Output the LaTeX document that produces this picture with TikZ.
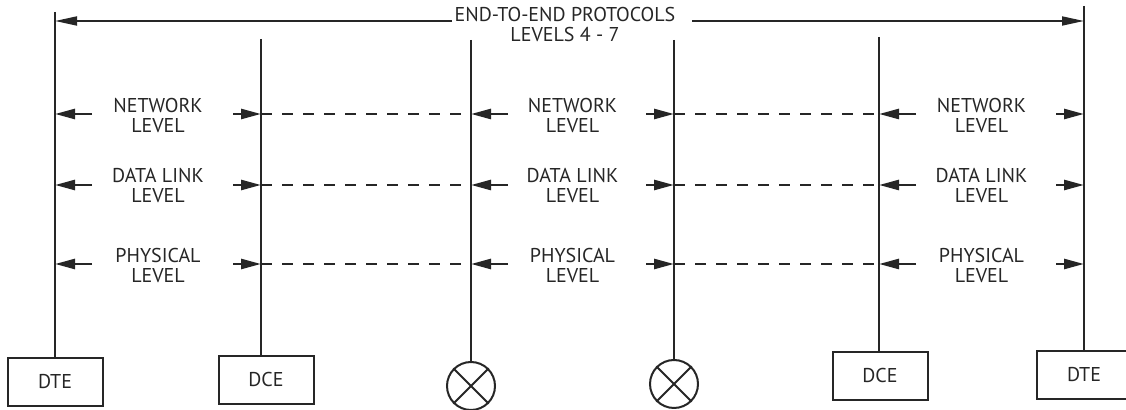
\documentclass[tikz,border=0pt]{standalone}
\usepackage{fontspec}
\setmainfont{PT Sans}
\usetikzlibrary{arrows.meta,calc}

\begin{document}
\begin{tikzpicture}[x=0.5pt,y=-0.5pt,color=black!85,
    every node/.style={font=\fontsize{10}{10}\selectfont},
    unit/.style={draw,line width=1pt,minimum width=47.5pt,minimum height=24pt,inner sep=0pt},
    xing/.style={draw,circle,line width=1pt,minimum size=24pt,inner sep=0pt},
    wire/.style={line width=1.3pt},
    top/.style={line width=0.9pt,-{Triangle[length=11pt,width=4.5pt]}},
    stub/.style={line width=1.3pt,-{Triangle[length=10pt,width=5pt]}},
    link/.style={line width=1.1pt,dash pattern=on 5.5pt off 5pt},
    lvl/.style={align=center}]
    \useasboundingbox (0,0) rectangle (1126,410);

    % stations at the bottom
    \node[unit] (dteL) at (55,382) {DTE};
    \node[unit] (dceL) at (266,380) {DCE};
    \node[xing] (swA) at (471,386) {};
    \node[xing] (swB) at (674,384) {};
    \node[unit] (dceR) at (880,376) {DCE};
    \node[unit] (dteR) at (1084,375) {DTE};
    \draw[line width=1pt] (swA.north west) -- (swA.south east) (swA.north east) -- (swA.south west);
    \draw[line width=1pt] (swB.north west) -- (swB.south east) (swB.north east) -- (swB.south west);

    % tops of the vertical lines
    \coordinate (tA) at (55,12);
    \coordinate (tB) at (261,39);
    \coordinate (tC) at (471,40);
    \coordinate (tD) at (674,40);
    \coordinate (tE) at (879,37);
    \coordinate (tF) at (1084,6);

    \draw[wire] (tA) -- (tA |- dteL.north);
    \draw[wire] (tB) -- (tB |- dceL.north);
    \draw[wire] (tC) -- (swA.north);
    \draw[wire] (tD) -- (swB.north);
    \draw[wire] (tE) -- (tE |- dceR.north);
    \draw[wire] (tF) -- (tF |- dteR.north);

    % end-to-end arrow
    \node[align=center] (title) at (565,25) {END-TO-END PROTOCOLS\\LEVELS 4 - 7};
    \coordinate (gapL) at (452,21);
    \coordinate (gapR) at (692,21);
    \draw[top] (gapL) -- (gapL -| tA);
    \draw[top] (gapR) -- (gapR -| tF);

    % level rows
    \foreach \r/\y/\txt in {net/114/{NETWORK\\LEVEL}, dl/185/{DATA LINK\\LEVEL}, phy/264/{PHYSICAL\\LEVEL}} {
        \foreach \s/\l/\m in {1/tA/tB, 2/tC/tD, 3/tE/tF} {
            \path (\l |- 0,\y) coordinate (\r\s l) (\m |- 0,\y) coordinate (\r\s r);
            \node[lvl] (\r\s) at ($(\r\s l)!0.5!(\r\s r)+(0,1)$) {\txt};
            \draw[stub] ([xshift=18.5pt]\r\s l) -- (\r\s l);
            \draw[stub] ([xshift=-14pt]\r\s r) -- (\r\s r);
        }
        \draw[link] (\r 1r) -- (\r 2l);
        \draw[link] (\r 2r) -- (\r 3l);
    }
\end{tikzpicture}
\end{document}
